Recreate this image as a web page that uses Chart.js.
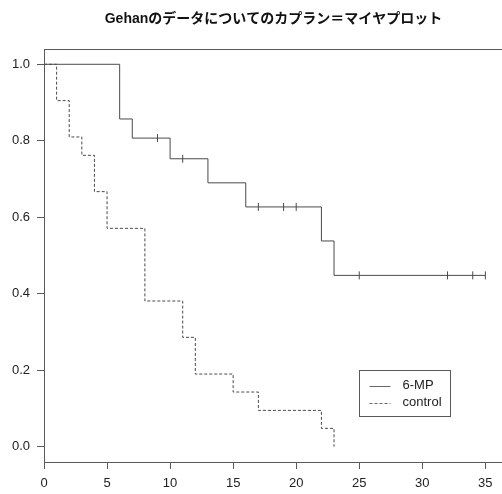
<!DOCTYPE html>
<html>
<head>
<meta charset="utf-8">
<script src="https://cdn.jsdelivr.net/npm/chart.js@4.4.1/dist/chart.umd.min.js"></script>
<style>
  html, body { margin: 0; padding: 0; background: #fff; overflow: hidden; }
  #wrap { width: 502px; height: 494px; overflow: hidden; }
  canvas { display: block; }
</style>
</head>
<body>
<div id="wrap"><canvas id="c" width="512" height="494"></canvas></div>
<script>
// Kaplan-Meier estimates, Gehan leukaemia remission data
const mpTimes     = [0, 6, 7, 10, 13, 16, 22, 23, 35];
const mpSurv      = [1.000, 0.857, 0.807, 0.753, 0.690, 0.627, 0.538, 0.448, 0.448];
const mpCensTimes = [9, 11, 17, 19, 20, 25, 32, 34, 35];
const mpCensSurv  = [0.807, 0.753, 0.627, 0.627, 0.627, 0.448, 0.448, 0.448, 0.448];

const ctlTimes = [0, 1, 2, 3, 4, 5, 8, 11, 12, 15, 17, 22, 23];
const ctlSurv  = [1.000, 0.905, 0.810, 0.762, 0.667, 0.571, 0.381, 0.286, 0.190, 0.143, 0.095, 0.048, 0.000];

const xTicks = [0, 5, 10, 15, 20, 25, 30, 35];
const yTicks = [0.0, 0.2, 0.4, 0.6, 0.8, 1.0];
const seriesNames = ['6-MP', 'control'];
const titleText = 'Gehanのデータについてのカプラン＝マイヤプロット';

const pts = (xs, ys) => xs.map((x, i) => ({ x: x, y: ys[i] }));

const FONT = '"Liberation Sans", Arial, "Noto Sans CJK JP", sans-serif';
const LINE = '#4a4a4a';
const AXIS = '#5a5a5a';
const TEXT = '#222222';

// Frame, title and legend drawn in R's base-graphics style
const decor = {
  id: 'decor',
  afterDraw(chart) {
    const { ctx, chartArea: a } = chart;
    ctx.save();
    ctx.strokeStyle = AXIS;
    ctx.lineWidth = 1;
    ctx.strokeRect(Math.round(a.left) + 0.5, Math.round(a.top) + 0.5,
                   Math.round(a.right - a.left), Math.round(a.bottom - a.top));

    ctx.fillStyle = '#111';
    ctx.font = 'bold 14px ' + FONT;
    ctx.textAlign = 'center';
    ctx.textBaseline = 'middle';
    ctx.fillText(titleText, (a.left + a.right) / 2, 19);

    // legend
    const lx = 359.5, ly = 370.5, lw = 91, lh = 46;
    ctx.strokeStyle = AXIS;
    ctx.strokeRect(lx, ly, lw, lh);
    ctx.font = '13px ' + FONT;
    ctx.textAlign = 'left';
    ctx.fillStyle = TEXT;
    const rows = [ly + 15, ly + 32];
    rows.forEach((ry, i) => {
      ctx.beginPath();
      ctx.strokeStyle = '#666';
      ctx.setLineDash(i === 0 ? [] : [3, 2]);
      ctx.moveTo(lx + 10, Math.round(ry) + 0.5);
      ctx.lineTo(lx + 31, Math.round(ry) + 0.5);
      ctx.stroke();
      ctx.setLineDash([]);
      ctx.fillText(seriesNames[i], lx + 43, ry);
    });
    ctx.restore();
  }
};

new Chart(document.getElementById('c'), {
  type: 'line',
  data: {
    datasets: [
      {
        label: seriesNames[0],
        data: pts(mpTimes, mpSurv),
        stepped: 'before',
        borderColor: LINE, borderWidth: 1,
        pointRadius: 0, fill: false
      },
      {
        label: seriesNames[1],
        data: pts(ctlTimes, ctlSurv),
        stepped: 'before',
        borderColor: LINE, borderWidth: 1, borderDash: [3, 2],
        pointRadius: 0, fill: false
      },
      {
        label: 'censored',
        type: 'scatter',
        data: pts(mpCensTimes, mpCensSurv),
        showLine: false,
        pointStyle: 'line', rotation: 90,
        pointRadius: 4, pointHoverRadius: 4,
        borderColor: LINE, pointBorderWidth: 1, borderWidth: 1,
        backgroundColor: LINE
      }
    ]
  },
  options: {
    responsive: false,
    animation: false,
    devicePixelRatio: 1,
    layout: { padding: { top: 49, right: 9, left: 0, bottom: 0 } },
    plugins: { legend: { display: false }, tooltip: { enabled: false }, title: { display: false } },
    scales: {
      x: {
        type: 'linear', min: 0, max: 36.4,
        afterBuildTicks: s => { s.ticks = xTicks.map(v => ({ value: v })); },
        afterFit: s => { s.height = 32; },
        grid: { drawOnChartArea: false, drawTicks: true, tickLength: 7, color: AXIS },
        border: { display: true, color: AXIS },
        ticks: { font: { family: FONT, size: 13 }, color: TEXT, padding: 7, maxRotation: 0 }
      },
      y: {
        type: 'linear', min: -0.04, max: 1.04,
        afterBuildTicks: s => { s.ticks = yTicks.map(v => ({ value: v })); },
        afterFit: s => { s.width = 44; },
        grid: { drawOnChartArea: false, drawTicks: true, tickLength: 7, color: AXIS },
        border: { display: true, color: AXIS },
        ticks: { font: { family: FONT, size: 13 }, color: TEXT, padding: 7,
                 callback: v => Number(v).toFixed(1) }
      }
    }
  },
  plugins: [decor]
});
</script>
</body>
</html>
